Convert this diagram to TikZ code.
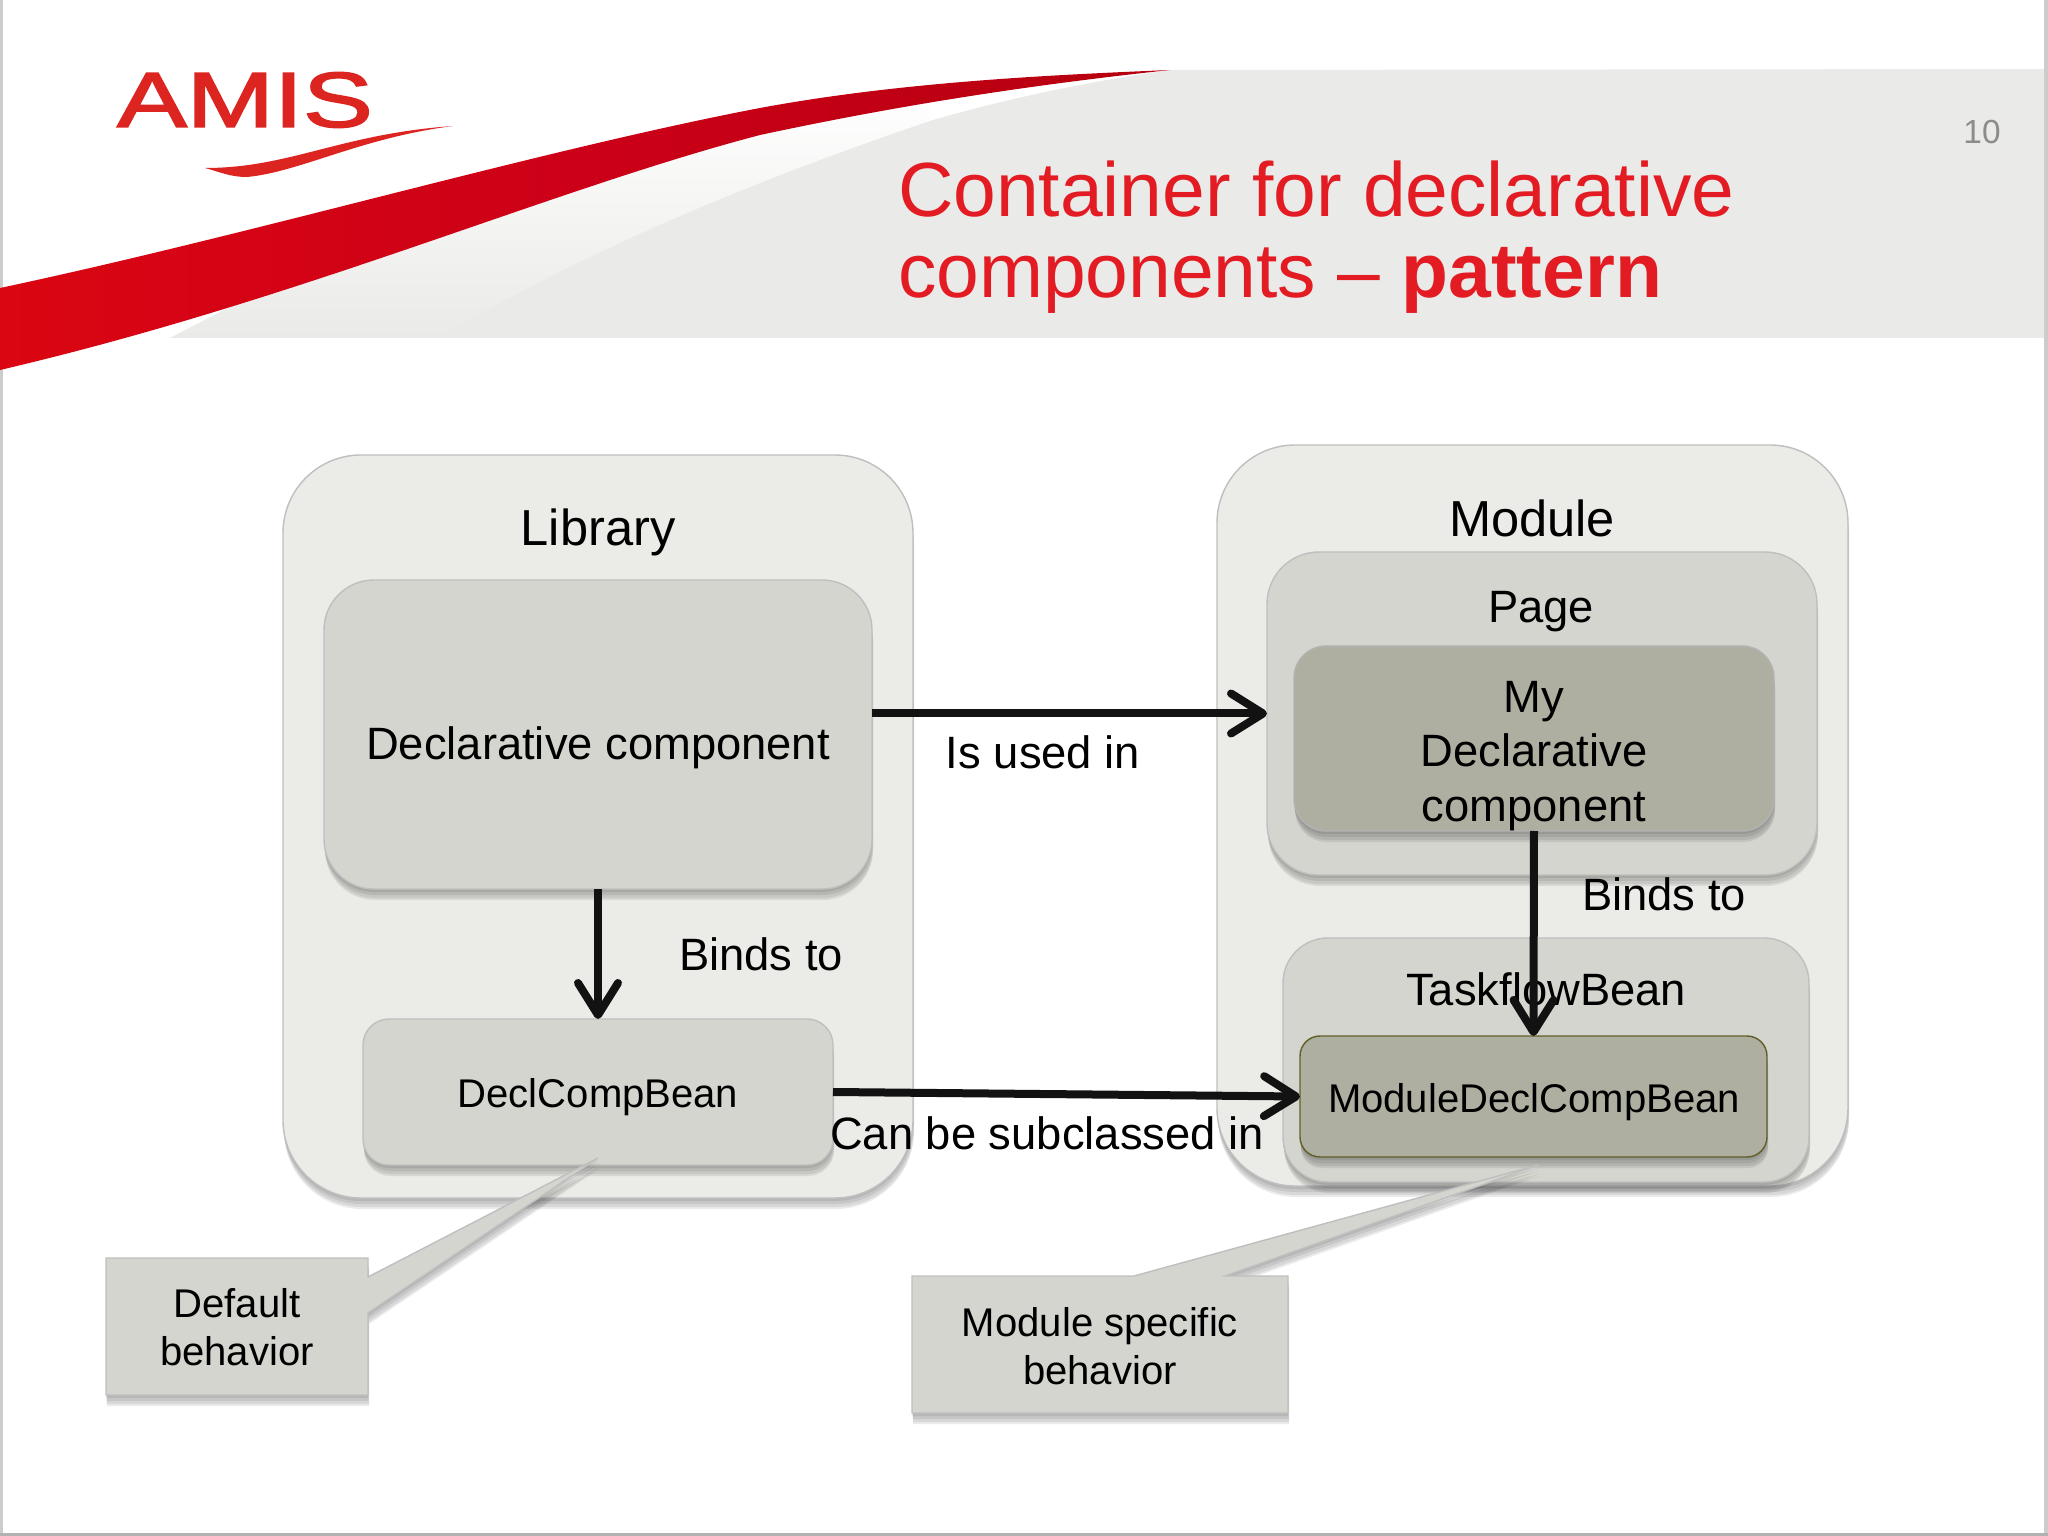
\documentclass[tikz,border=0pt]{standalone}
\usepackage{fontspec}
\setmainfont{Liberation Sans}
\newfontfamily\logofont[FakeBold=2]{Liberation Sans}
\usetikzlibrary{arrows.meta,shadows}
\definecolor{amisred}{HTML}{DA0612}
\definecolor{midred}{HTML}{CC0018}
\definecolor{darkred}{HTML}{B5000F}
\definecolor{logored}{HTML}{DC2420}
\definecolor{titlered}{HTML}{E31B23}
\definecolor{bandgray}{HTML}{EAEAE8}
\definecolor{outerfill}{HTML}{EBEBE8}
\definecolor{midfill}{HTML}{D5D5CF}
\definecolor{darkfill}{HTML}{AFAFA1}
\tikzset{
	softshadow/.style={
		general shadow={shadow xshift=0.01cm, shadow yshift=-0.11cm, fill=black, opacity=0.08},
		general shadow={shadow xshift=0.01cm, shadow yshift=-0.09cm, fill=black, opacity=0.08},
		general shadow={shadow xshift=0.005cm, shadow yshift=-0.06cm, fill=black, opacity=0.08},
		general shadow={shadow xshift=0cm, shadow yshift=-0.03cm, fill=black, opacity=0.08}},
	box/.style={rectangle, inner sep=0, outer sep=0, line width=0.4pt, softshadow},
	outerbox/.style={box, draw=black!25, fill=outerfill, rounded corners=0.78cm},
	midbox/.style={box, draw=black!25, fill=midfill},
	darkbox/.style={box, draw=black!30, fill=darkfill},
	textnode/.style={inner sep=0, outer sep=0, text=black, align=center, font=\fontsize{12.9}{15.6}\selectfont},
	smalltext/.style={textnode, font=\fontsize{11.4}{13.7}\selectfont},
	bigtext/.style={textnode, font=\fontsize{14.4}{17}\selectfont},
	calloutbox/.style={draw=black!25, fill=midfill, line width=0.4pt, softshadow},
	link/.style={line width=0.08cm, draw=black!93, -{Straight Barb[length=3.2mm,width=4mm,round]}}
}
\begin{document}
\begin{tikzpicture}[y=-1cm]
	\useasboundingbox (0,0) rectangle (20.48,15.36);
	\fill[white] (0,0) rectangle (20.48,15.36);
	\fill[black!20] (0,0) rectangle (0.03,15.36);
	\fill[black!20] (20.44,0) rectangle (20.48,15.36);
	\fill[black!30] (0,15.33) rectangle (20.48,15.36);
	%%%%% BAND %%%%%
	\shade[top color=white, bottom color=bandgray]
		(1.7,3.38) -- (3.2,2.6) -- (6.0,1.6) -- (9.3,0.9) -- (9.3,1.3) -- (4.4,3.38) -- cycle;
	\fill[bandgray] (4.4,3.38) .. controls (6,2.4) and (8,1.65) .. (9.33,1.2) .. controls (10.2,0.95) and (11,0.8) .. (11.7,0.70)
		-- (20.44,0.69) -- (20.44,3.38) -- cycle;
	%%%%% SWOOSH %%%%%
	\shade[left color=amisred, right color=darkred, middle color=midred]
		(0,2.88) .. controls (2.5,2.35) and (5.4,1.5) .. (7.6,1.08) .. controls (9,0.82) and (10.5,0.75) .. (11.7,0.70)
		.. controls (10.3,0.85) and (9,1.05) .. (7.6,1.35) .. controls (5.5,1.9) and (3,3.0) .. (0,3.70) -- cycle;
	%%%%% LOGO %%%%%
	\node[inner sep=0, outer sep=0, xscale=1.34, text=logored, font=\fontsize{22.2}{24}\logofont] (logo) at (2.45,1.0) {AMIS};
	\fill[logored] (2.05,1.68) .. controls (2.9,1.68) and (3.4,1.34) .. (4.53,1.26) .. controls (3.6,1.38) and (3.0,1.72) .. (2.47,1.77) .. controls (2.3,1.77) and (2.2,1.72) .. (2.05,1.68) -- cycle;
	%%%%% TITLE %%%%%
	\node[inner sep=0, outer sep=0, anchor=west, align=left, text=titlered, font=\fontsize{21.85}{23}\selectfont] (title) at (8.98,2.37) {Container for declarative\\components – \textbf{pattern}};
	\node[inner sep=0, outer sep=0, text=black!45, font=\fontsize{9.5}{11}\selectfont] (pagenumber) at (19.82,1.32) {10};
	%%%%% LIBRARY %%%%%
	\node[outerbox, minimum width=6.30cm, minimum height=7.43cm] (library) at (5.98,8.265) {};
	\node[bigtext] (librarytitle) at (5.98,5.32) {Library};
	\node[midbox, rounded corners=0.5cm, minimum width=5.48cm, minimum height=3.09cm] (declcomp) at (5.98,7.345) {};
	\node[textnode] (decltext) at (5.98,7.48) {Declarative component};
	\node[midbox, rounded corners=0.26cm, minimum width=4.70cm, minimum height=1.46cm] (declbean) at (5.98,10.92) {};
	\node[smalltext] (declbeantext) at (5.98,10.97) {DeclCompBean};
	%%%%% MODULE %%%%%
	\node[outerbox, minimum width=6.31cm, minimum height=7.41cm] (module) at (15.325,8.155) {};
	\node[bigtext] (moduletitle) at (15.32,5.18) {Module};
	\node[midbox, rounded corners=0.52cm, minimum width=5.50cm, minimum height=3.23cm] (page) at (15.42,7.135) {};
	\node[textnode] (pagetitle) at (15.41,6.12) {Page};
	\node[darkbox, rounded corners=0.32cm, minimum width=4.80cm, minimum height=1.85cm] (mydecl) at (15.34,7.385) {};
	\node[textnode] (mydecltext) at (15.34,7.56) {My\\Declarative\\component};
	\node[midbox, rounded corners=0.45cm, minimum width=5.26cm, minimum height=2.44cm] (taskflow) at (15.46,10.60) {};
	\node[textnode] (taskflowtitle) at (15.46,9.89) {TaskflowBean};
	\node[darkbox, draw=olive!60!black, rounded corners=0.2cm, minimum width=4.67cm, minimum height=1.21cm] (modbean) at (15.335,10.965) {};
	\node[smalltext] (modbeantext) at (15.34,11.02) {ModuleDeclCompBean};
	%%%%% CALLOUTS %%%%%
	\draw[calloutbox] (1.06,12.58) -- (3.68,12.58) -- (3.68,12.77) -- (5.98,11.58) -- (3.68,13.13) -- (3.68,13.95) -- (1.06,13.95) -- cycle;
	\node[smalltext] (defaultbehavior) at (2.37,13.27) {Default\\behavior};
	\draw[calloutbox] (9.12,12.76) -- (11.34,12.76) -- (15.38,11.65) -- (12.25,12.76) -- (12.88,12.76) -- (12.88,14.13) -- (9.12,14.13) -- cycle;
	\node[smalltext] (modulebehavior) at (11.0,13.46) {Module specific\\behavior};
	%%%%% ARROWS %%%%%
	\draw[link] (page.west -| declcomp.east) -- (page.west);
	\draw[link] (declcomp.south) -- (declbean.north);
	\draw[link] (declbean.east) -- (modbean.west);
	\draw[link] (mydecl.south) -- (modbean.north);
	\node[textnode] (usedinlabel) at (10.43,7.52) {Is used in};
	\node[textnode] (bindsleft) at (7.61,9.54) {Binds to};
	\node[textnode] (bindsright) at (16.64,8.94) {Binds to};
	\node[textnode] (subclasslabel) at (10.47,11.33) {Can be subclassed in};
\end{tikzpicture}
\end{document}
